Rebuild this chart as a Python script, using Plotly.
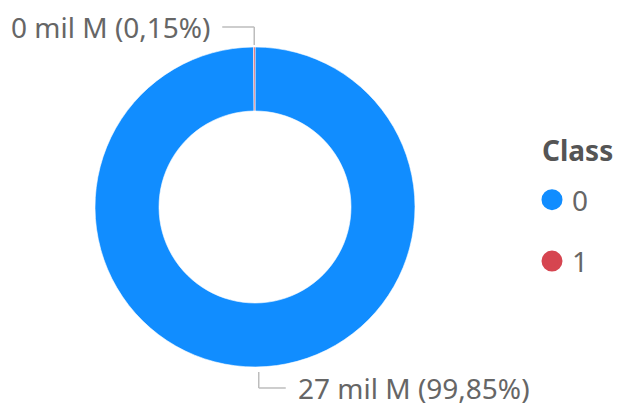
import math
import plotly.graph_objects as go

# ---- data ----
classes = ["0", "1"]
values = [27.0, 0.0406]          # "mil M" (thousand millions)
colors = ["#118DFF", "#D64550"]
legend_title = "Class"

W, H = 620, 407
FONT = "Segoe UI, Noto Sans, Open Sans, sans-serif"
TXT = "#666666"
FS = 28

# pie domain (paper fractions)
dom_x = [95 / W, 415 / W]
dom_y = [(H - 367) / H, (H - 47) / H]
hole = 0.6

fig = go.Figure()
fig.add_trace(go.Pie(
    labels=classes, values=values, hole=hole, sort=False,
    direction="clockwise", rotation=0,
    marker=dict(colors=colors, line=dict(width=0.6, color="white")),
    textinfo="none", hoverinfo="label+value+percent",
    showlegend=False, domain=dict(x=dom_x, y=dom_y),
))

# legend entries as circles
for c, col in zip(classes, colors):
    fig.add_trace(go.Scatter(
        x=[None], y=[None], mode="markers", name=c, legendgroup=c,
        marker=dict(symbol="circle", size=16, color=col,
                    line=dict(width=6, color=col)),
    ))

# ---- outside labels with elbow leader lines (computed from data) ----
cx = (dom_x[0] + dom_x[1]) / 2 * W
cy = H - (dom_y[0] + dom_y[1]) / 2 * H
R = (dom_x[1] - dom_x[0]) * W / 2
total = sum(values)
shapes, annots = [], []
cum = 0.0
for c, v in zip(classes, values):
    mid = (cum + v / 2) / total * 2 * math.pi  # clockwise from 12 o'clock
    cum += v
    ax = cx + R * math.sin(mid)
    ay = cy - R * math.cos(mid)
    up = math.cos(mid) > 0
    right = math.sin(mid) >= -1e-6
    if not up:
        ax += 3
    ey = ay - 20 if up else ay + 21
    ex = ax
    hx = ex + (27 if right else -32)
    pct = v / total * 100
    text = f"{v:.0f} mil M ({pct:.2f}%)".replace(".", ",")
    start_y = ay + (-2 if up else 5)
    for (x0, y0, x1, y1) in [(ax, start_y, ex, ey), (ex, ey, hx, ey)]:
        shapes.append(dict(type="line", xref="paper", yref="paper",
                           x0=x0 / W, y0=1 - y0 / H, x1=x1 / W, y1=1 - y1 / H,
                           line=dict(color="#BDBDBD", width=1.5)))
    annots.append(dict(
        x=(hx + (10 if right else -9)) / W, y=1 - ey / H, xref="paper", yref="paper",
        text=text, showarrow=False,
        xanchor="left" if right else "right", yanchor="middle",
        font=dict(family=FONT, size=FS, color=TXT),
    ))

# legend title as its own text
annots.append(dict(
    x=540 / W, y=1 - 150 / H, xref="paper", yref="paper",
    text="<b>" + legend_title + "</b>", showarrow=False,
    xanchor="left", yanchor="middle",
    font=dict(family=FONT, size=FS, color="#555555"),
))

fig.update_layout(
    width=W, height=H,
    margin=dict(l=0, r=0, t=0, b=0),
    paper_bgcolor="white", plot_bgcolor="white",
    xaxis=dict(visible=False), yaxis=dict(visible=False),
    shapes=shapes, annotations=annots,
    showlegend=True,
    legend=dict(
        x=532 / W, y=1 - 175 / H, xanchor="left", yanchor="top",
        font=dict(family=FONT, size=FS, color=TXT),
        tracegroupgap=22,
        bgcolor="rgba(0,0,0,0)",
    ),
)

fig.write_html("out.html")
